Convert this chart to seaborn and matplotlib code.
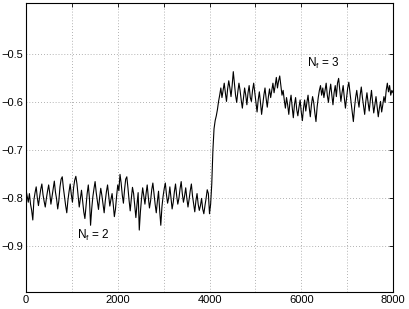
import numpy as np
import pandas as pd
import matplotlib
matplotlib.use("Agg")
import matplotlib.pyplot as plt
import seaborn as sns

# Values (before the switch, Nf = 2)
seg_nf2 = [
    -0.782,-0.795,-0.808,-0.790,-0.812,-0.825,-0.845,-0.803,-0.788,-0.776,-0.799,-0.815,-0.797,-0.781,-0.770,-0.792,-0.806,-0.818,-0.800,-0.785,
    -0.772,-0.790,-0.812,-0.796,-0.780,-0.764,-0.787,-0.801,-0.822,-0.805,-0.776,-0.760,-0.755,-0.778,-0.796,-0.815,-0.830,-0.804,-0.786,-0.770,
    -0.792,-0.808,-0.778,-0.762,-0.754,-0.770,-0.795,-0.818,-0.801,-0.783,-0.806,-0.828,-0.842,-0.815,-0.790,-0.772,-0.800,-0.856,-0.822,-0.797,
    -0.780,-0.765,-0.788,-0.806,-0.823,-0.798,-0.779,-0.794,-0.812,-0.830,-0.805,-0.786,-0.772,-0.795,-0.816,-0.802,-0.790,-0.812,-0.838,-0.822,
    -0.795,-0.772,-0.784,-0.750,-0.768,-0.793,-0.810,-0.782,-0.760,-0.755,-0.778,-0.804,-0.826,-0.800,-0.777,-0.790,-0.815,-0.840,-0.812,-0.788,
    -0.866,-0.828,-0.800,-0.778,-0.795,-0.812,-0.790,-0.772,-0.798,-0.820,-0.805,-0.782,-0.768,-0.790,-0.812,-0.830,-0.806,-0.785,-0.825,-0.856,
    -0.818,-0.796,-0.780,-0.768,-0.792,-0.810,-0.798,-0.776,-0.800,-0.822,-0.808,-0.786,-0.770,-0.794,-0.812,-0.800,-0.780,-0.765,-0.790,-0.808,
    -0.795,-0.778,-0.800,-0.818,-0.802,-0.784,-0.770,-0.795,-0.812,-0.828,-0.805,-0.790,-0.812,-0.825,-0.815,-0.800,-0.822,-0.832,-0.815,-0.800,
    -0.782,-0.790,-0.832,-0.812,
]
# Values after the switch (Nf = 3)
seg_nf3 = [
    -0.770,-0.700,-0.655,-0.638,-0.628,-0.615,-0.598,-0.585,-0.570,-0.590,-0.575,-0.560,-0.580,-0.598,-0.572,-0.555,-0.570,-0.588,-0.565,-0.536,
    -0.560,-0.585,-0.600,-0.578,-0.560,-0.575,-0.595,-0.612,-0.590,-0.570,-0.585,-0.605,-0.580,-0.565,-0.590,-0.598,-0.575,-0.560,-0.580,-0.600,
    -0.620,-0.595,-0.578,-0.600,-0.625,-0.605,-0.585,-0.570,-0.592,-0.610,-0.588,-0.572,-0.590,-0.575,-0.560,-0.580,-0.565,-0.548,-0.570,-0.555,
    -0.545,-0.565,-0.585,-0.575,-0.595,-0.612,-0.590,-0.605,-0.625,-0.600,-0.585,-0.610,-0.632,-0.605,-0.590,-0.615,-0.628,-0.610,-0.595,-0.620,
    -0.638,-0.612,-0.595,-0.618,-0.600,-0.585,-0.610,-0.630,-0.605,-0.588,-0.600,-0.622,-0.640,-0.610,-0.590,-0.575,-0.565,-0.585,-0.570,-0.590,
    -0.575,-0.560,-0.585,-0.600,-0.578,-0.562,-0.585,-0.605,-0.580,-0.565,-0.588,-0.560,-0.550,-0.575,-0.598,-0.580,-0.565,-0.590,-0.612,-0.590,
    -0.570,-0.558,-0.580,-0.600,-0.620,-0.640,-0.612,-0.590,-0.575,-0.595,-0.610,-0.585,-0.568,-0.590,-0.608,-0.625,-0.598,-0.580,-0.600,-0.618,
    -0.595,-0.575,-0.600,-0.622,-0.605,-0.588,-0.610,-0.630,-0.612,-0.598,-0.620,-0.605,-0.588,-0.600,-0.575,-0.560,-0.578,-0.565,-0.585,-0.575,
    -0.580,
]
x_max = 8000
xticks = [0, 1000, 2000, 3000, 4000, 5000, 6000, 7000, 8000]
xticklabels = ["0", "", "2000", "", "4000", "", "6000", "", "8000"]
yticks = [-0.9, -0.8, -0.7, -0.6, -0.5]
labels = [("$\\mathregular{N_f}$ = 2", 1110, -0.885), ("$\\mathregular{N_f}$ = 3", 6120, -0.527)]

values = np.array(seg_nf2 + seg_nf3)
df = pd.DataFrame({"t": np.linspace(0, x_max, len(values)), "v": values})

sns.set_style("white")
plt.rcParams["font.family"] = ["Liberation Sans", "DejaVu Sans"]
plt.rcParams["mathtext.fontset"] = "custom"
plt.rcParams["mathtext.rm"] = "Liberation Sans"
plt.rcParams["mathtext.it"] = "Liberation Sans"

fig = plt.figure(figsize=(4.09, 3.09), dpi=100)
ax = fig.add_axes([26/409, 17/309, 367/409, 289/309])
sns.lineplot(data=df, x="t", y="v", ax=ax, color="black", linewidth=0.8)

ax.set_xlim(0, x_max)
ax.set_ylim(-0.995, -0.393)
ax.set_xticks(xticks)
ax.set_xticklabels(xticklabels)
ax.set_yticks(yticks)
ax.set_xlabel("")
ax.set_ylabel("")
ax.grid(True, linestyle=(0, (1, 2.5)), color="#999999", linewidth=0.6)
for s in ax.spines.values():
    s.set_color("black")
    s.set_linewidth(0.8)
ax.tick_params(direction="in", length=3, width=0.6, labelsize=8, colors="black",
               top=True, right=True, pad=2)
for txt, tx, ty in labels:
    ax.text(tx, ty, txt, fontsize=8.5, color="black")

fig.savefig("out.png", dpi=100)
